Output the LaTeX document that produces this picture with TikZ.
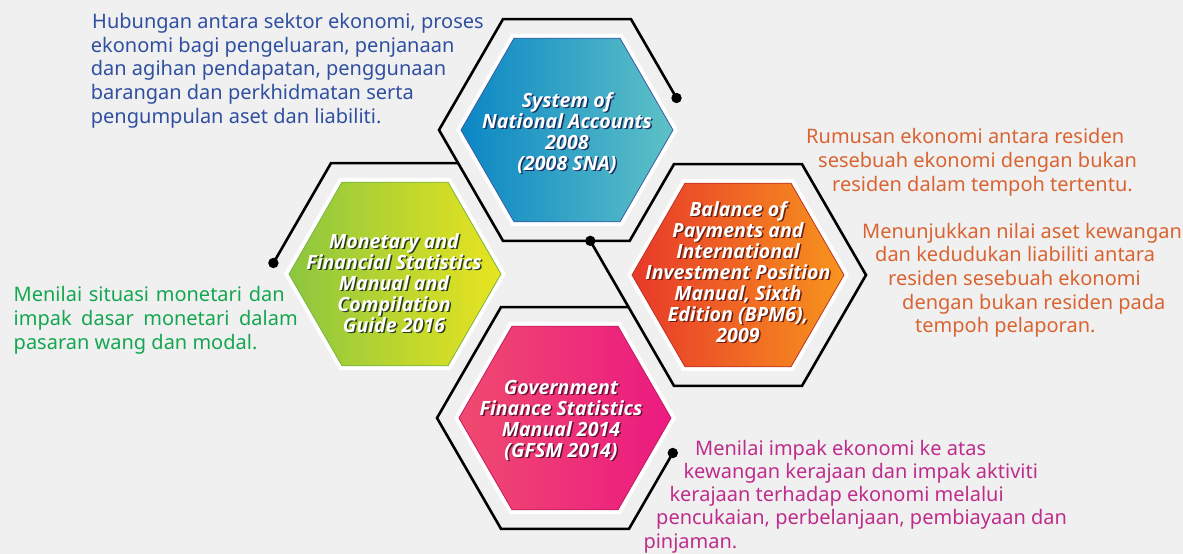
\documentclass[tikz,border=0pt]{standalone}
\usepackage{fontspec}
\setmainfont{Noto Sans}
\newfontfamily\titlefont{Open Sans}
\definecolor{bgpaper}{RGB}{240,240,240}
\definecolor{snablue}{RGB}{11,135,197}
\definecolor{snateal}{RGB}{94,193,198}
\definecolor{snaedge}{RGB}{60,90,166}
\definecolor{snashadow}{RGB}{25,45,95}
\definecolor{snatext}{RGB}{47,79,160}
\definecolor{mfsgreen}{RGB}{140,198,63}
\definecolor{mfsyellow}{RGB}{232,228,32}
\definecolor{mfsedge}{RGB}{120,180,64}
\definecolor{mfsshadow}{RGB}{40,60,25}
\definecolor{mfstext}{RGB}{20,166,80}
\definecolor{bopred}{RGB}{232,57,42}
\definecolor{boporange}{RGB}{247,148,29}
\definecolor{bopedge}{RGB}{190,50,35}
\definecolor{bopshadow}{RGB}{110,30,15}
\definecolor{boptext}{RGB}{217,100,50}
\definecolor{gfsmpink}{RGB}{239,74,111}
\definecolor{gfsmmagenta}{RGB}{236,26,129}
\definecolor{gfsmedge}{RGB}{195,25,95}
\definecolor{gfsmshadow}{RGB}{100,15,50}
\definecolor{gfsmtext}{RGB}{190,45,140}

\newcommand{\hexagon}[1]{(0:#1) -- (60:#1) -- (120:#1) -- (180:#1) -- (240:#1) -- (300:#1) -- cycle}

\tikzset{
  hextitle/.style={font=\titlefont\bfseries\itshape\fontsize{19.6}{21}\selectfont, align=center, inner sep=0pt, text=white},
  bodytext/.style={font=\fontsize{20}{24}\selectfont, anchor=base west, inner sep=0pt},
  frame/.style={line width=2.6pt, line join=miter},
  knob/.style={fill=black}
}

\begin{document}
\begin{tikzpicture}[x=1pt, y=-1pt]
\useasboundingbox (0,0) rectangle (1183,554);
\fill[bgpaper] (0,0) rectangle (1183,554);

% Hexagon centres
\coordinate (sna) at (567,130);
\coordinate (mfs) at (395,274);
\coordinate (bop) at (738,275);
\coordinate (gfsm) at (565,418);

% Ends of the frames
\coordinate (sna-dot) at (676.5,98);
\coordinate (mfs-dot) at (273.4,263);
\coordinate (bop-dot) at (590.3,240.85);
\coordinate (gfsm-dot) at (672.8,453);

% Black frames
\draw[frame] (sna-dot) -- (631,19.15) -- (503,19.15) -- (439,130) -- (503,240.85) -- (bop-dot);
\draw[frame] (mfs-dot) -- (331,163.15) -- (458.1,163.15);
\draw[frame] (bop-dot) -- (629.7,240.85) -- (674,164.15) -- (802,164.15) -- (866,275)
  -- (802,385.85) -- (674,385.85) -- cycle;
\draw[frame] (629,307.15) -- (501,307.15) -- (437,418) -- (501,528.85) -- (629,528.85) -- (gfsm-dot);

\foreach \p in {sna-dot, mfs-dot, bop-dot, gfsm-dot} {
  \fill[knob] (\p) circle (5.2);
}

% White rims and coloured hexagons
\foreach \c/\lc/\rc/\ec in {sna/snablue/snateal/snaedge, mfs/mfsgreen/mfsyellow/mfsedge,
  bop/bopred/boporange/bopedge, gfsm/gfsmpink/gfsmmagenta/gfsmedge} {
  \fill[white, shift={(\c)}] \hexagon{111};
  \draw[draw=\ec, line width=0.8pt, left color=\lc, right color=\rc, shift={(\c)}] \hexagon{106};
}

% Titles with shadow
\def\snatitle{System of\\National Accounts\\2008\\(2008 SNA)}
\def\mfstitle{Monetary and\\Financial Statistics\\Manual and\\Compilation\\Guide 2016}
\def\boptitle{Balance of\\Payments and\\International\\Investment Position\\Manual, Sixth\\Edition (BPM6),\\2009}
\def\gfsmtitle{Government\\Finance Statistics\\Manual 2014\\(GFSM 2014)}
\foreach \c/\x/\y in {sna/567/133, mfs/394/283, bop/738/272, gfsm/561/420} {
  \node[hextitle, text=\c shadow] at (\x+1.5,\y+1.5) {\csname\c title\endcsname};
  \node[hextitle] (\c-title) at (\x,\y) {\csname\c title\endcsname};
}

% Descriptions
\foreach \x/\y/\txt [count=\i] in {
  92/28.3/{Hubungan antara sektor ekonomi, proses},
  90.7/52.1/{ekonomi bagi pengeluaran, penjanaan},
  90.7/75.9/{dan agihan pendapatan, penggunaan},
  90.7/99.7/{barangan dan perkhidmatan serta},
  90.7/123.5/{pengumpulan aset dan liabiliti.}} {
  \node[bodytext, text=snatext] (sna-txt-\i) at (\x,\y) {\txt};
}
\foreach \x/\y/\txt [count=\i] in {
  13.5/301.5/{\makebox[271pt][s]{Menilai situasi monetari dan}},
  13.5/325.5/{\makebox[284pt][s]{impak dasar monetari dalam}},
  13.5/349.5/{pasaran wang dan modal.}} {
  \node[bodytext, text=mfstext] (mfs-txt-\i) at (\x,\y) {\txt};
}
\foreach \x/\y/\txt [count=\i] in {
  806/143/{Rumusan ekonomi antara residen},
  818/167/{sesebuah ekonomi dengan bukan},
  832/191/{residen dalam tempoh tertentu.},
  862/238/{Menunjukkan nilai aset kewangan},
  875/261.7/{dan kedudukan liabiliti antara},
  888/285.4/{residen sesebuah ekonomi},
  902/309.1/{dengan bukan residen pada},
  915/332.8/{tempoh pelaporan.}} {
  \node[bodytext, text=boptext] (bop-txt-\i) at (\x,\y) {\txt};
}
\foreach \x/\y/\txt [count=\i] in {
  695/455/{Menilai impak ekonomi ke atas},
  683.3/478.3/{kewangan kerajaan dan impak aktiviti},
  669.3/501.6/{kerajaan terhadap ekonomi melalui},
  656/524.9/{pencukaian, perbelanjaan, pembiayaan dan},
  643.3/548.2/{pinjaman.}} {
  \node[bodytext, text=gfsmtext] (gfsm-txt-\i) at (\x,\y) {\txt};
}

\end{tikzpicture}
\end{document}
